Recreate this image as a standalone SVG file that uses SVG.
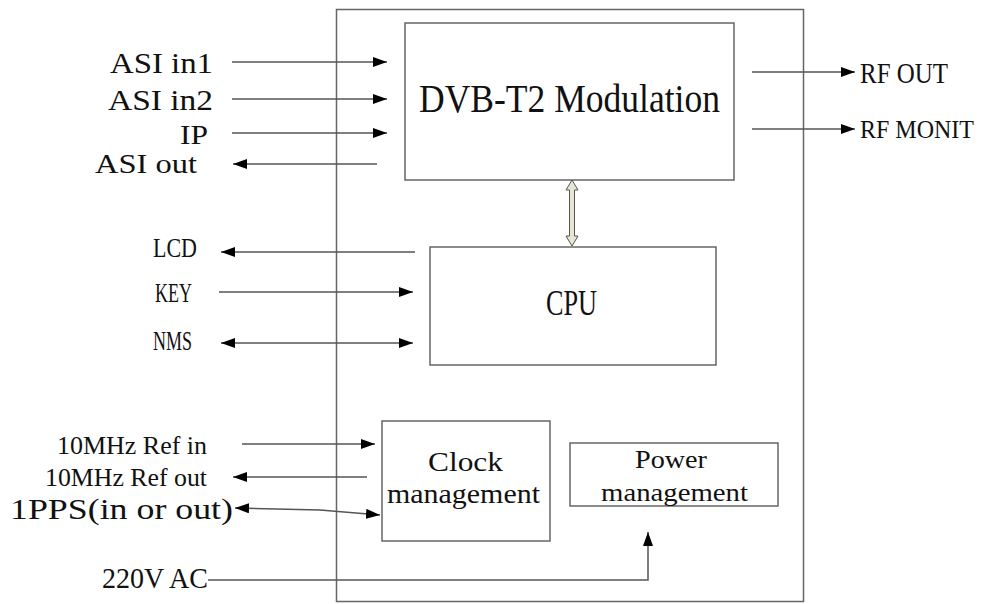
<svg xmlns="http://www.w3.org/2000/svg" width="984" height="604" viewBox="0 0 984 604">
<defs>
<marker id="ah" viewBox="0 0 14 10" refX="14" refY="5" markerWidth="14" markerHeight="10" markerUnits="userSpaceOnUse" orient="auto-start-reverse"><path d="M0,0 L14,5 L0,10 z" fill="#000"/></marker>
<style>
.box{fill:none;stroke:#666;stroke-width:1.5}
.ln{fill:none;stroke:#555;stroke-width:1.5}
.ar{marker-end:url(#ah)}
.ar2{marker-start:url(#ah);marker-end:url(#ah)}
text{font-family:"Liberation Serif","DejaVu Serif",serif;fill:#111}
</style>
</defs>
<rect width="984" height="604" fill="#fff"/>
<g id="enclosure"><rect class="box" x="336.5" y="9.5" width="467" height="592"/></g>
<g id="dvb"><rect class="box" x="405" y="23" width="329" height="157"/><text x="419" y="112" font-size="39" textLength="301" lengthAdjust="spacingAndGlyphs">DVB-T2 Modulation</text></g>
<g id="cpu"><rect class="box" x="430" y="247" width="286" height="118"/><text x="546" y="315" font-size="35" textLength="51" lengthAdjust="spacingAndGlyphs">CPU</text></g>
<g id="clock"><rect class="box" x="382" y="421" width="168" height="120"/><text x="428" y="471" font-size="28" textLength="75" lengthAdjust="spacingAndGlyphs">Clock</text><text x="387" y="503" font-size="28" textLength="153" lengthAdjust="spacingAndGlyphs">management</text></g>
<g id="power"><rect class="box" x="570" y="443" width="208" height="63"/><text x="635" y="468" font-size="25" textLength="72" lengthAdjust="spacingAndGlyphs">Power</text><text x="601" y="501" font-size="26" textLength="147" lengthAdjust="spacingAndGlyphs">management</text></g>
<g id="labels">
<text x="110" y="73" font-size="30" textLength="103" lengthAdjust="spacingAndGlyphs">ASI in1</text>
<text x="108" y="110" font-size="30" textLength="105" lengthAdjust="spacingAndGlyphs">ASI in2</text>
<text x="180" y="144" font-size="27" textLength="28" lengthAdjust="spacingAndGlyphs">IP</text>
<text x="95" y="173" font-size="28" textLength="102" lengthAdjust="spacingAndGlyphs">ASI out</text>
<text x="860" y="83" font-size="30" textLength="88" lengthAdjust="spacingAndGlyphs">RF OUT</text>
<text x="860" y="138" font-size="25" textLength="114" lengthAdjust="spacingAndGlyphs">RF MONIT</text>
<text x="153" y="257" font-size="28" textLength="44" lengthAdjust="spacingAndGlyphs">LCD</text>
<text x="155" y="302" font-size="28" textLength="37" lengthAdjust="spacingAndGlyphs">KEY</text>
<text x="153" y="350" font-size="27" textLength="39" lengthAdjust="spacingAndGlyphs">NMS</text>
<text x="57" y="454" font-size="26" textLength="150" lengthAdjust="spacingAndGlyphs">10MHz Ref in</text>
<text x="45" y="486" font-size="25" textLength="162" lengthAdjust="spacingAndGlyphs">10MHz Ref out</text>
<text x="10" y="519" font-size="30" textLength="223" lengthAdjust="spacingAndGlyphs">1PPS(in or out)</text>
<text x="102" y="588" font-size="29" textLength="106" lengthAdjust="spacingAndGlyphs">220V AC</text>
</g>
<g id="connectors">
<path class="ln ar" d="M232,62 H387"/>
<path class="ln ar" d="M232,99 H387"/>
<path class="ln ar" d="M232,133 H387"/>
<path class="ln ar" d="M377,164 H233"/>
<path class="ln ar" d="M752,72 H855"/>
<path class="ln ar" d="M752,129 H855"/>
<path class="ln ar" d="M415,252 H221"/>
<path class="ln ar" d="M219,292 H413"/>
<path class="ln ar2" d="M221,343 H413"/>
<path class="ln ar" d="M242,444 H375"/>
<path class="ln ar" d="M367,477 H233"/>
<path class="ln ar2" d="M235,508 L320,510 L380,515"/>
<path class="ln ar" d="M208,580 H648 V532"/>
<polygon points="572,180 578,190 574.5,190 574.5,236 578,236 572,246 566,236 569.5,236 569.5,190 566,190" fill="#e6e6d2" stroke="#555" stroke-width="1"/>
</g>
</svg>
